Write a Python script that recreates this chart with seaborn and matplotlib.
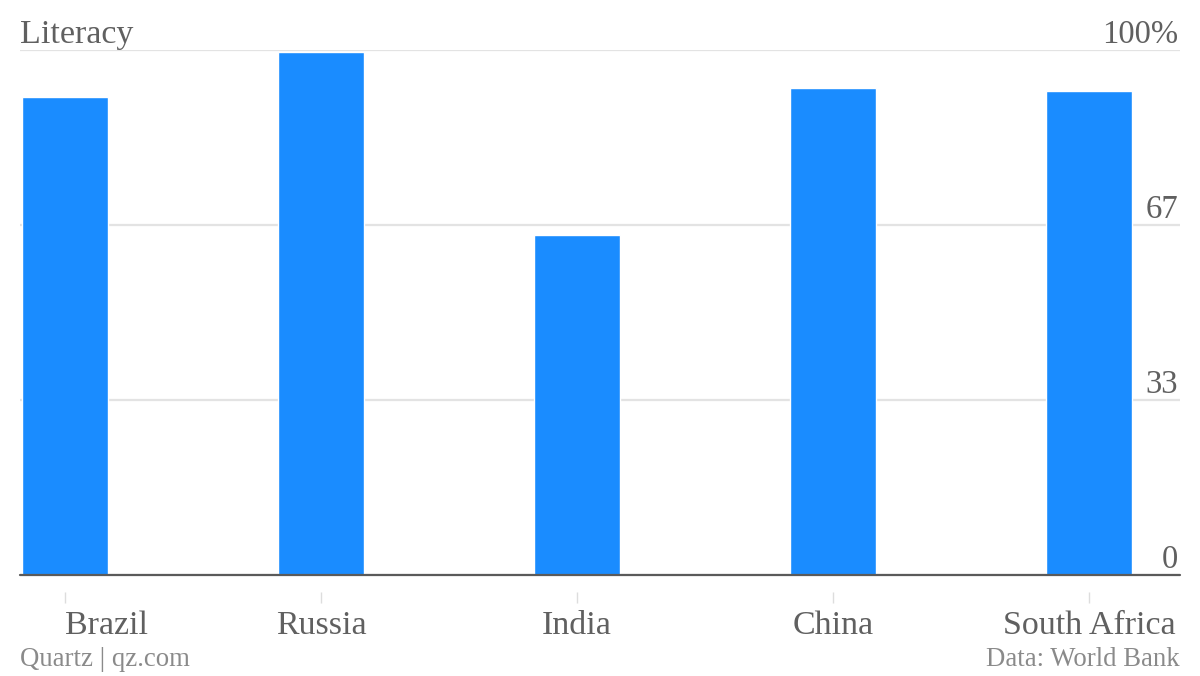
import matplotlib
matplotlib.use("Agg")
import matplotlib.pyplot as plt
import matplotlib.transforms as mtransforms
import seaborn as sns
import pandas as pd

# ---- data ----
countries = ["Brazil", "Russia", "India", "China", "South Africa"]
literacy = [91.0, 99.7, 64.8, 92.7, 92.2]
y_ticks = [0, 100 / 3, 200 / 3, 100]
y_tick_labels = ["0", "33", "67", "100%"]
title = "Literacy"
source_left = "Quartz | qz.com"
source_right = "Data: World Bank"

df = pd.DataFrame({"country": countries, "literacy": literacy})

sns.set_theme(style="white")
plt.rcParams["font.family"] = ["Liberation Serif", "DejaVu Serif"]

TEXT = "#606060"
FOOT = "#8a8a8a"
BAR = "#1a8cff"

fig = plt.figure(figsize=(12, 6.76), dpi=100)
ax = fig.add_axes([20 / 1200, 1 - 575 / 676, 1160 / 1200, (575 - 50) / 676])

sns.barplot(data=df, x="country", y="literacy", color=BAR, saturation=1,
            width=0.336, ax=ax, zorder=3)
ax.set_xlim(-0.1758, 4.355)
ax.set_ylim(0, 100)

# gridlines
ax.set_yticks(y_ticks)
ax.yaxis.grid(True, color="#e3e3e3", linewidth=1.6, zorder=0)
ax.set_axisbelow(True)
ax.tick_params(axis="y", left=False, right=False, labelleft=False, labelright=False)

# baseline
ax.axhline(0, color="#5a5a5a", linewidth=1.6, zorder=4, clip_on=False)

for s in ["left", "right", "top"]:
    ax.spines[s].set_visible(False)
ax.spines["bottom"].set_position(("outward", 12.5))
ax.spines["bottom"].set_visible(False)

ax.tick_params(axis="x", bottom=True, length=8, width=1, color="#dddddd",
               pad=5, labelsize=24.5, labelcolor=TEXT)
ax.set_xlabel("")
ax.set_ylabel("")
labels = ax.get_xticklabels()
labels[0].set_horizontalalignment("left")

# y tick labels inside, above gridlines, right aligned
trans = mtransforms.blended_transform_factory(ax.transAxes, ax.transData)
offset = mtransforms.offset_copy(trans, fig=fig, x=-2, y=7, units="dots")
for v, lab in zip(y_ticks, y_tick_labels):
    ax.text(1.0, v, lab, transform=offset, ha="right", va="baseline",
            fontsize=23.5, color=TEXT)

fig.text(20 / 1200, 1 - 43 / 676, title, ha="left", va="baseline",
         fontsize=24.5, color=TEXT)
fig.text(20 / 1200, 1 - 666 / 676, source_left, ha="left", va="baseline",
         fontsize=19.3, color=FOOT)
fig.text(1180 / 1200, 1 - 666 / 676, source_right, ha="right", va="baseline",
         fontsize=19.3, color=FOOT)

fig.savefig("out.png", dpi=100, facecolor="white")
